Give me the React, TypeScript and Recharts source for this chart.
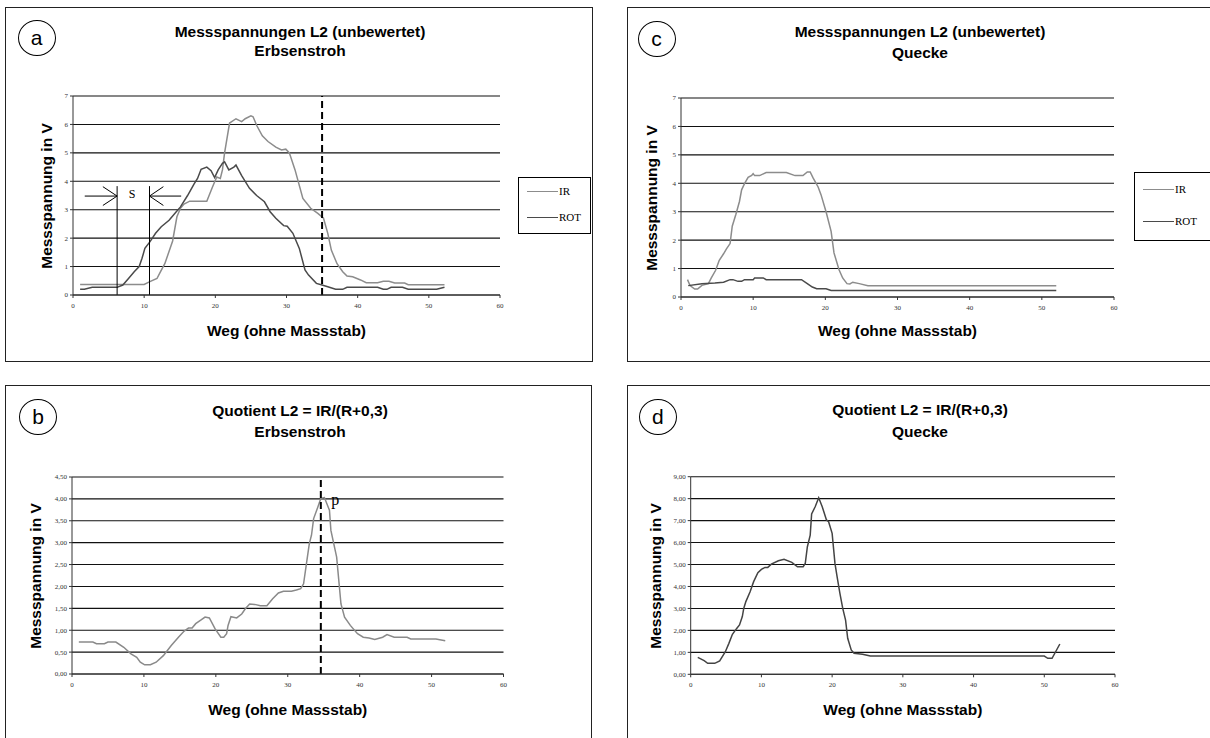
import React from 'react';
import { LineChart, Line, XAxis, YAxis, CartesianGrid, ReferenceLine, ReferenceDot } from 'recharts';

// ---------- data ----------
const X_TICKS = [0, 10, 20, 30, 40, 50, 60];
const V_TICKS = [0, 1, 2, 3, 4, 5, 6, 7];
const QB_TICKS = [0, 0.5, 1, 1.5, 2, 2.5, 3, 3.5, 4, 4.5];
const QD_TICKS = [0, 1, 2, 3, 4, 5, 6, 7, 8, 9];

const SERIES_NAMES = ['IR', 'ROT'];

// Panel a: Erbsenstroh, raw voltages
const irA: [number, number][] = [
  [1, 0.37], [10, 0.37], [10.8, 0.47], [11.8, 0.58], [12.3, 0.82], [12.9, 1.1], [14, 1.9], [14.6, 2.75],
  [15.1, 3.05], [15.6, 3.2], [16.4, 3.3], [18.8, 3.3], [19.6, 3.8], [20.2, 4.15], [20.7, 4.1], [21, 4.4],
  [21.3, 5.0], [21.5, 5.3], [22, 6.05], [22.3, 6.1], [22.9, 6.2], [23.7, 6.1], [24.2, 6.2], [25, 6.3],
  [25.3, 6.27], [25.8, 5.97], [26.6, 5.6], [27.4, 5.4], [28.5, 5.2], [29.3, 5.1], [29.9, 5.13], [30.4, 5.0],
  [31.2, 4.4], [32.3, 3.4], [33.4, 3.05], [34.4, 2.87], [35.2, 2.7], [35.8, 2.17], [36.3, 1.58], [37.1, 1.1],
  [37.9, 0.82], [38.5, 0.67], [39.3, 0.64], [40.4, 0.53], [41.2, 0.43], [42.8, 0.43], [43.6, 0.48], [44.4, 0.48],
  [45.2, 0.42], [46.6, 0.42], [47.1, 0.36], [52.2, 0.36],
];
const rotA: [number, number][] = [
  [1, 0.2], [1.6, 0.2], [2.7, 0.27], [6.2, 0.27], [7, 0.35], [7.8, 0.58], [8.6, 0.82], [9.3, 1.0],
  [9.7, 1.29], [10.1, 1.64], [10.8, 1.87], [11.6, 2.17], [12.4, 2.4], [13.5, 2.63], [14.3, 2.87], [15.1, 3.1],
  [16.1, 3.5], [17, 3.9], [17.5, 4.1], [18, 4.42], [18.8, 4.5], [19.4, 4.37], [19.9, 4.13], [20.4, 4.4],
  [21, 4.63], [21.3, 4.68], [21.9, 4.4], [22.6, 4.5], [22.9, 4.57], [23.7, 4.2], [24.8, 3.75], [25.8, 3.5],
  [26.9, 3.28], [27.7, 2.93], [28.5, 2.7], [29.6, 2.44], [30.1, 2.42], [30.9, 2.17], [31.8, 1.64], [32.6, 0.88],
  [33.1, 0.7], [34.2, 0.41], [35, 0.35], [35.8, 0.29], [36.9, 0.2], [37.9, 0.2], [38.5, 0.27], [42.8, 0.27],
  [43.6, 0.2], [44.1, 0.2], [44.7, 0.27], [46.3, 0.27], [47.1, 0.2], [51.1, 0.2], [52.2, 0.27],
];

// Panel c: Quecke, raw voltages
const irC: [number, number][] = [
  [0.9, 0.61], [1.25, 0.4], [1.9, 0.28], [2.3, 0.28], [2.9, 0.41], [3.8, 0.47], [4.2, 0.67], [4.8, 0.94],
  [5.3, 1.29], [5.9, 1.52], [6.3, 1.69], [6.8, 1.88], [7.1, 2.49], [7.6, 2.9], [8.1, 3.36], [8.4, 3.77],
  [8.8, 3.99], [9.3, 4.21], [9.8, 4.28], [10, 4.34], [10.2, 4.27], [10.9, 4.27], [11.8, 4.38], [14.6, 4.38],
  [15.8, 4.27], [16.9, 4.27], [17.5, 4.4], [17.9, 4.4], [18.3, 4.19], [19, 3.87], [19.4, 3.6], [20.1, 3.0],
  [20.8, 2.31], [21.2, 1.55], [21.9, 0.96], [22.4, 0.67], [23, 0.47], [23.4, 0.46], [23.8, 0.52], [24.7, 0.47],
  [25.9, 0.4], [52, 0.4],
];
const rotC: [number, number][] = [
  [1, 0.4], [2.9, 0.47], [4.7, 0.49], [5.9, 0.52], [6.8, 0.61], [7.2, 0.61], [7.9, 0.55], [8.4, 0.55],
  [8.8, 0.61], [10, 0.61], [10.2, 0.67], [11.4, 0.67], [11.8, 0.61], [16.7, 0.61], [17.4, 0.49], [18.2, 0.35],
  [18.8, 0.29], [20.1, 0.29], [20.8, 0.23], [52, 0.23],
];

// Panel b: Erbsenstroh, quotient
const qB: [number, number][] = [
  [0.95, 0.73], [2.9, 0.73], [3.4, 0.69], [4.5, 0.69], [5, 0.73], [6.1, 0.73], [7.2, 0.61], [8.2, 0.46],
  [9, 0.38], [9.5, 0.27], [10.1, 0.21], [10.9, 0.21], [11.7, 0.27], [12.7, 0.42], [13.8, 0.65], [14.8, 0.84],
  [15.6, 0.98], [16.2, 1.05], [16.7, 1.05], [17.2, 1.15], [18, 1.24], [18.5, 1.3], [19.1, 1.28], [19.9, 1.03],
  [20.7, 0.84], [21.1, 0.84], [21.5, 0.92], [21.7, 1.11], [22.1, 1.31], [22.9, 1.28], [23.6, 1.37], [24.1, 1.49],
  [24.7, 1.6], [25.4, 1.59], [26.2, 1.56], [27.1, 1.56], [27.9, 1.72], [28.7, 1.85], [29.4, 1.89], [30.5, 1.89],
  [31.2, 1.92], [31.8, 1.95], [32.2, 2.06], [32.6, 2.52], [33, 2.98], [33.3, 3.17], [33.6, 3.55], [34.2, 3.82],
  [34.6, 4.01], [35.1, 4.03], [35.8, 3.74], [36, 3.28], [36.8, 2.67], [37.4, 1.6], [37.9, 1.3], [38.7, 1.11],
  [39.7, 0.92], [40.5, 0.84], [41.3, 0.82], [42.1, 0.79], [43.2, 0.84], [43.8, 0.9], [44.8, 0.84], [46.6, 0.84],
  [47.1, 0.8], [50.6, 0.8], [51.9, 0.76],
];

// Panel d: Quecke, quotient
const qD: [number, number][] = [
  [1, 0.77], [1.9, 0.62], [2.4, 0.5], [3.4, 0.5], [4.1, 0.61], [4.9, 1.03], [5.4, 1.41], [5.9, 1.82],
  [6.5, 2.09], [6.9, 2.25], [7.3, 2.63], [7.5, 3.0], [7.8, 3.31], [8.4, 3.76], [8.9, 4.22], [9.5, 4.63],
  [10, 4.78], [10.5, 4.87], [10.9, 4.87], [11.4, 5.02], [12.4, 5.17], [13.2, 5.24], [14.3, 5.1], [15.1, 4.9],
  [15.9, 4.9], [16.2, 5.05], [16.5, 5.81], [16.9, 6.34], [17.1, 7.3], [17.6, 7.63], [18.1, 8.04], [18.6, 7.63],
  [19.2, 7.03], [19.5, 6.95], [20, 6.42], [20.4, 5.05], [20.7, 4.45], [21.1, 3.69], [21.5, 3.0], [21.9, 2.47],
  [22.2, 1.64], [22.7, 1.11], [23.1, 0.96], [24.3, 0.91], [25.4, 0.83], [50, 0.83], [50.5, 0.73], [51.1, 0.73],
  [52.2, 1.38],
];

// ---------- helpers ----------
const pts = (arr: [number, number][]) => arr.map(([x, y]) => ({ x, y }));
const comma = (v: number) => v.toFixed(2).replace('.', ',');

const SANS = '"Liberation Sans", Arial, sans-serif';
const SERIF = '"Liberation Serif", "Times New Roman", serif';
const IR_COLOR = '#8c8c8c';
const ROT_COLOR = '#4a4a4a';

const YW = 20;
const XH = 20;

type Box = { x: number; y: number; w: number; h: number };
type Plot = { x0: number; x1: number; top: number; bot: number };

function Title({ cx, y1, y2, t1, t2 }: { cx: number; y1: number; y2: number; t1: string; t2: string }) {
  const st: React.CSSProperties = {
    position: 'absolute', left: cx - 250, width: 500, textAlign: 'center', fontFamily: SANS,
    fontWeight: 'bold', fontSize: 15.5, lineHeight: '18px', color: '#000', whiteSpace: 'nowrap',
  };
  return (
    <>
      <div style={{ ...st, top: y1 - 9 }}>{t1}</div>
      <div style={{ ...st, top: y2 - 9 }}>{t2}</div>
    </>
  );
}

function Circle({ cx, cy, letter }: { cx: number; cy: number; letter: string }) {
  return (
    <div style={{
      position: 'absolute', left: cx - 19, top: cy - 18, width: 36, height: 34, border: '1.3px solid #000',
      borderRadius: '50%', display: 'flex', alignItems: 'center', justifyContent: 'center',
      fontFamily: SANS, fontSize: 21, color: '#000', background: '#fff',
    }}>{letter}</div>
  );
}

function AxisTitles({ plot, yx, xy }: { plot: Plot; yx: number; xy: number }) {
  const st: React.CSSProperties = {
    position: 'absolute', fontFamily: SANS, fontWeight: 'bold', fontSize: 15.5, color: '#000', whiteSpace: 'nowrap',
  };
  return (
    <>
      <div style={{ ...st, left: yx, top: (plot.top + plot.bot) / 2, transform: 'translate(-50%,-50%) rotate(-90deg)' }}>
        Messspannung in V
      </div>
      <div style={{ ...st, left: (plot.x0 + plot.x1) / 2, top: xy, transform: 'translate(-50%,-50%)' }}>
        Weg (ohne Massstab)
      </div>
    </>
  );
}

function LegendBox({ x, y, w, h, lineY1, lineY2 }: { x: number; y: number; w: number; h: number; lineY1: number; lineY2: number }) {
  const colors = [IR_COLOR, ROT_COLOR];
  const ys = [lineY1, lineY2];
  return (
    <div style={{ position: 'absolute', left: x, top: y, width: w, height: h, border: '1px solid #000', background: '#fff' }}>
      {SERIES_NAMES.map((n, i) => (
        <div key={n} style={{ position: 'absolute', left: 8, top: ys[i] - 7, height: 14, display: 'flex', alignItems: 'center' }}>
          <div style={{ width: 31, height: 0, borderTop: `1.5px solid ${colors[i]}` }} />
          <span style={{ fontFamily: SERIF, fontSize: 11, color: '#000', marginLeft: 1 }}>{n}</span>
        </div>
      ))}
    </div>
  );
}

function Chart({ box, plot, yMax, yTicks, fmt, children }: {
  box: Box; plot: Plot; yMax: number; yTicks: number[]; fmt?: (v: number) => string; children: React.ReactNode;
}) {
  const margin = {
    left: plot.x0 - box.x - YW,
    right: box.x + box.w - plot.x1,
    top: plot.top - box.y,
    bottom: box.y + box.h - plot.bot - XH,
  };
  const tick = { fontSize: 7, fontFamily: SERIF, fill: '#333' };
  return (
    <div style={{ position: 'absolute', left: box.x, top: box.y }}>
      <LineChart width={box.w} height={box.h} margin={margin}>
        <CartesianGrid horizontal vertical={false} stroke="#111" strokeWidth={1.1} />
        <XAxis type="number" dataKey="x" domain={[0, 60]} ticks={X_TICKS} interval={0} height={XH}
          tick={tick} tickSize={3} tickMargin={5} axisLine={{ stroke: '#333' }} tickLine={{ stroke: '#333' }} allowDataOverflow />
        <YAxis type="number" domain={[0, yMax]} ticks={yTicks} interval={0} width={YW} tickFormatter={fmt}
          tick={tick} tickSize={3} tickMargin={2} axisLine={{ stroke: '#333' }} tickLine={{ stroke: '#333' }} allowDataOverflow />
        {children}
      </LineChart>
    </div>
  );
}

const border = (b: Box): React.CSSProperties => ({
  position: 'absolute', left: b.x, top: b.y, width: b.w, height: b.h, border: '1.5px solid #222', boxSizing: 'border-box',
});

export default function App() {
  const boxA: Box = { x: 5, y: 7, w: 588, h: 355 };
  const plotA: Plot = { x0: 73, x1: 500, top: 96, bot: 295 };
  const boxC: Box = { x: 627, y: 7, w: 592, h: 355 };
  const plotC: Plot = { x0: 681, x1: 1114, top: 98, bot: 297 };
  const boxB: Box = { x: 5, y: 385, w: 587, h: 360 };
  const plotB: Plot = { x0: 72, x1: 503.5, top: 477, bot: 674 };
  const boxD: Box = { x: 627, y: 385, w: 592, h: 360 };
  const plotD: Plot = { x0: 690.7, x1: 1115, top: 476.7, bot: 674.3 };

  const seg = (x1: number, y1: number, x2: number, y2: number, k: string) => (
    <ReferenceLine key={k} segment={[{ x: x1, y: y1 }, { x: x2, y: y2 }]} stroke="#000" strokeWidth={1} ifOverflow="extendDomain" />
  );

  return (
    <div style={{ position: 'absolute', left: 0, top: 0, width: 1210, height: 738, overflow: 'hidden', background: '#fff' }}>
      {/* panel a */}
      <div style={border(boxA)} />
      <Chart box={boxA} plot={plotA} yMax={7} yTicks={V_TICKS}>
        <Line data={pts(irA)} dataKey="y" name="IR" type="linear" dot={false} stroke={IR_COLOR} strokeWidth={1.5} isAnimationActive={false} />
        <Line data={pts(rotA)} dataKey="y" name="ROT" type="linear" dot={false} stroke={ROT_COLOR} strokeWidth={1.5} isAnimationActive={false} />
        <ReferenceLine x={35} stroke="#000" strokeWidth={2} strokeDasharray="7 4" />
        {seg(6.2, 0, 6.2, 3.83, 's1')}
        {seg(10.75, 0, 10.75, 3.83, 's2')}
        {seg(1.65, 3.48, 6.2, 3.48, 'a1')}
        {seg(4.2, 3.81, 6.2, 3.48, 'a2')}
        {seg(4.2, 3.15, 6.2, 3.48, 'a3')}
        {seg(10.75, 3.48, 15.2, 3.48, 'b1')}
        {seg(12.7, 3.81, 10.75, 3.48, 'b2')}
        {seg(12.7, 3.15, 10.75, 3.48, 'b3')}
        <ReferenceDot x={8.3} y={3.55} r={1} fill="none" stroke="none"
          label={{ value: 'S', position: 'center', fontFamily: SERIF, fontSize: 12, fill: '#000' }} />
      </Chart>
      <Circle cx={36.7} cy={38} letter="a" />
      <Title cx={300} y1={32} y2={51} t1="Messspannungen L2 (unbewertet)" t2="Erbsenstroh" />
      <AxisTitles plot={plotA} yx={47} xy={331} />
      <LegendBox x={518} y={177} w={71} h={55} lineY1={13} lineY2={39} />

      {/* panel c */}
      <div style={border(boxC)} />
      <Chart box={boxC} plot={plotC} yMax={7} yTicks={V_TICKS}>
        <Line data={pts(irC)} dataKey="y" name="IR" type="linear" dot={false} stroke={IR_COLOR} strokeWidth={1.5} isAnimationActive={false} />
        <Line data={pts(rotC)} dataKey="y" name="ROT" type="linear" dot={false} stroke={ROT_COLOR} strokeWidth={1.5} isAnimationActive={false} />
      </Chart>
      <Circle cx={656.6} cy={39} letter="c" />
      <Title cx={920} y1={32} y2={53} t1="Messspannungen L2 (unbewertet)" t2="Quecke" />
      <AxisTitles plot={plotC} yx={652} xy={331} />
      <LegendBox x={1134} y={172} w={80} h={67} lineY1={16} lineY2={48} />

      {/* panel b */}
      <div style={border(boxB)} />
      <Chart box={boxB} plot={plotB} yMax={4.5} yTicks={QB_TICKS} fmt={comma}>
        <Line data={pts(qB)} dataKey="y" name="Quotient" type="linear" dot={false} stroke="#8a8a8a" strokeWidth={1.5} isAnimationActive={false} />
        <ReferenceLine x={34.6} stroke="#000" strokeWidth={2} strokeDasharray="7 4" />
        <ReferenceDot x={36.6} y={4.0} r={1} fill="none" stroke="none"
          label={{ value: 'p', position: 'center', fontFamily: SERIF, fontSize: 16, fill: '#000' }} />
      </Chart>
      <Circle cx={38} cy={416.7} letter="b" />
      <Title cx={300} y1={411} y2={432} t1="Quotient L2 = IR/(R+0,3)" t2="Erbsenstroh" />
      <AxisTitles plot={plotB} yx={36} xy={710} />

      {/* panel d */}
      <div style={border(boxD)} />
      <Chart box={boxD} plot={plotD} yMax={9} yTicks={QD_TICKS} fmt={comma}>
        <Line data={pts(qD)} dataKey="y" name="Quotient" type="linear" dot={false} stroke="#444" strokeWidth={1.5} isAnimationActive={false} />
      </Chart>
      <Circle cx={657.8} cy={416.7} letter="d" />
      <Title cx={920} y1={410} y2={432} t1="Quotient L2 = IR/(R+0,3)" t2="Quecke" />
      <AxisTitles plot={plotD} yx={656} xy={710} />
    </div>
  );
}
